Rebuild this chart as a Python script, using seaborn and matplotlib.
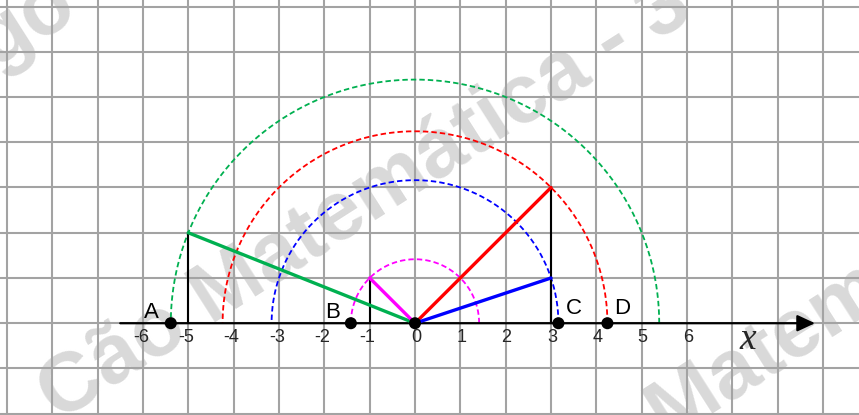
import numpy as np
import pandas as pd
import matplotlib
matplotlib.use("Agg")
import matplotlib.pyplot as plt
import seaborn as sns

# ---- data ----
end_x = [-5, -1, 3, 3]
end_y = [2, 1, 3, 1]
seg_colors = ["#00b050", "#ff00ff", "#ff0000", "#0000ff"]
point_labels = ["A", "B", "C", "D"]
point_x = [-np.sqrt(29), -np.sqrt(2), np.sqrt(10), np.sqrt(18)]
tick_values = [-6, -5, -4, -3, -2, -1, 0, 1, 2, 3, 4, 5, 6]
watermark = "Cão Matemática - 3º Ciclo"

sns.set_theme(style="white")
plt.rcParams["font.family"] = ["Liberation Sans", "DejaVu Sans"]

W, H = 8.59, 4.15
fig = plt.figure(figsize=(W, H), dpi=100)
ax = fig.add_axes([0, 0, 1, 1])
PX = 45.35
ax.set_xlim(-415 / PX, 444 / PX)
ax.set_ylim(-92 / PX, 324 / PX)
for s in ax.spines.values():
    s.set_visible(False)
ax.set_xticks(range(-9, 10))
ax.set_yticks(range(-2, 8))
ax.tick_params(length=0, labelbottom=False, labelleft=False)
ax.set_axisbelow(True)
ax.grid(True, color="#a3a3a3", lw=1.5)

# watermark
def px2d(x, y):
    return (x - 415) / PX, (324 - y) / PX

ang = 32.5
for (px, py), txt in [((58, 423), watermark), ((515, 540), watermark)]:
    x, y = px2d(px, py)
    ax.text(x, y, txt, rotation=ang, rotation_mode="anchor", ha="left",
            va="baseline", fontsize=60, fontweight="bold", color="#d9d9d9",
            zorder=0.1, clip_on=True)
x, y = px2d(80, 14)
ax.text(x, y, "go", rotation=ang, rotation_mode="anchor", ha="right",
        va="baseline", fontsize=60, fontweight="bold", color="#d9d9d9",
        zorder=0.1, clip_on=True)

# x axis with arrow
ax.annotate("", xy=(8.82, 0), xytext=(-6.5, 0),
            arrowprops=dict(arrowstyle="-|>,head_length=0.9,head_width=0.42",
                            color="black", lw=1.6, mutation_scale=12,
                            shrinkA=0, shrinkB=0), zorder=3)

# dashed semicircles
t = np.linspace(0, np.pi, 300)
for ex, ey, c in zip(end_x, end_y, seg_colors):
    r = np.hypot(ex, ey)
    df = pd.DataFrame({"x": r * np.cos(t), "y": r * np.sin(t)})
    sns.lineplot(data=df, x="x", y="y", sort=False, estimator=None, ax=ax,
                 color=c, lw=1.3, linestyle=(0, (3, 1.7)), zorder=2)

# black verticals
for ex, ey in zip(end_x, end_y):
    df = pd.DataFrame({"x": [ex, ex], "y": [0, ey]})
    sns.lineplot(data=df, x="x", y="y", sort=False, estimator=None, ax=ax,
                 color="black", lw=1.5, zorder=3)

# radius segments
for ex, ey, c in zip(end_x, end_y, seg_colors):
    df = pd.DataFrame({"x": [0, ex], "y": [0, ey]})
    sns.lineplot(data=df, x="x", y="y", sort=False, estimator=None, ax=ax,
                 color=c, lw=2.4, zorder=4, solid_capstyle="round")

# points
pts = pd.DataFrame({"x": [0] + point_x, "y": [0] * 5})
sns.scatterplot(data=pts, x="x", y="y", ax=ax, color="black", s=75,
                edgecolor="none", zorder=5)

# point labels
lab_off = {"A": (-0.42, 0.23), "B": (-0.40, 0.23), "C": (0.35, 0.33), "D": (0.32, 0.33)}
for lab, x in zip(point_labels, point_x):
    dx, dy = lab_off[lab]
    ax.text(x + dx, dy, lab, ha="center", va="center", fontsize=16, color="black", zorder=6)

# tick labels
for v in tick_values:
    if v < 0:
        ax.text(v + 0.13, -0.31, str(v), ha="right", va="center", fontsize=13, zorder=6)
    else:
        ax.text(v + 0.02, -0.31, str(v), ha="center", va="center", fontsize=13, zorder=6)

ax.text(7.34, -0.36, "x", ha="center", va="center", fontsize=27,
        family=["Liberation Serif"], style="italic", zorder=6)

ax.set_xlabel("")
ax.set_ylabel("")
fig.savefig("out.png", dpi=100)
